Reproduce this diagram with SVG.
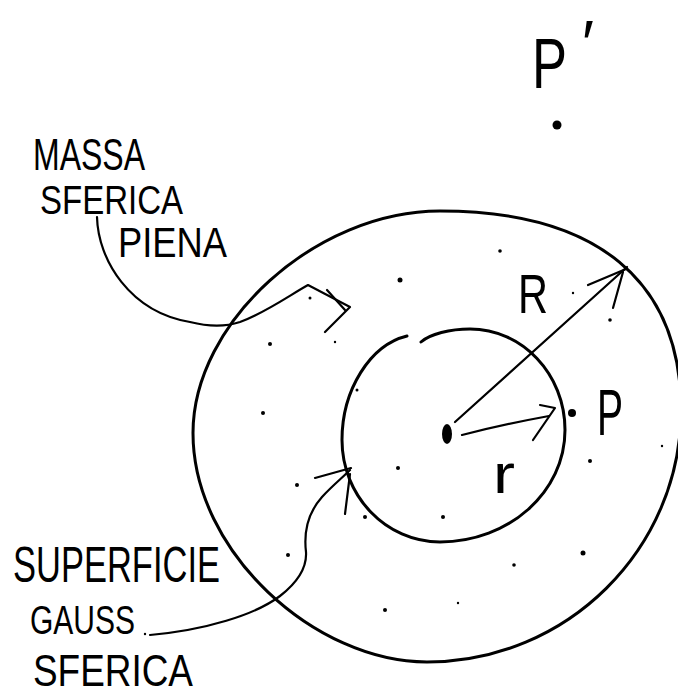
<svg xmlns="http://www.w3.org/2000/svg" width="678" height="699" viewBox="0 0 678 699">
<style>
.t{font-family:"Liberation Sans",Arial,sans-serif;fill:#000;}
.s{fill:none;stroke:#000;stroke-linecap:round;stroke-linejoin:round;}
.c{stroke-width:3;}
.l{stroke-width:2.2;}
.d{fill:#000;}
</style>
<rect width="678" height="699" fill="#fff"/>
<g id="outer-sphere">
<path class="s c" d="M440,211 C597,211 681,281 681,410 C681,549 567,662 427,662 C315,662 193,552 193,433 C193,322 316,211 440,211 Z"/>
</g>
<g id="inner-sphere">
<path class="s c" d="M421,342 C430,334 450,329 470,329 C522,329 565,374 565,430 C565,492 509,542 440,542 C386,542 342,496 342,440 C342,390 370,345 407,336"/>
</g>
<g id="center">
<ellipse class="d" cx="447" cy="434" rx="5" ry="10"/>
</g>
<g id="point-P">
<circle class="d" cx="572" cy="413" r="4"/>
<text class="t" x="597" y="435" font-size="64" textLength="26" lengthAdjust="spacingAndGlyphs">P</text>
</g>
<g id="point-P-prime">
<circle class="d" cx="557" cy="125" r="4.5"/>
<text class="t" x="532" y="88" font-size="70"><tspan textLength="35" lengthAdjust="spacingAndGlyphs">P</tspan><tspan x="582" y="66" font-size="64">′</tspan></text>
</g>
<g id="label-massa">
<text class="t" x="33" y="170" font-size="44" textLength="112" lengthAdjust="spacingAndGlyphs">MASSA</text>
<text class="t" x="40" y="214" font-size="40" textLength="143" lengthAdjust="spacingAndGlyphs">SFERICA</text>
<text class="t" x="118" y="257" font-size="42" textLength="109" lengthAdjust="spacingAndGlyphs">PIENA</text>
</g>
<g id="label-gauss">
<text class="t" x="13" y="582" font-size="50" textLength="207" lengthAdjust="spacingAndGlyphs">SUPERFICIE</text>
<text class="t" x="30" y="634" font-size="40" textLength="105" lengthAdjust="spacingAndGlyphs">GAUSS</text>
<text class="t" x="33" y="686" font-size="44" textLength="160" lengthAdjust="spacingAndGlyphs">SFERICA</text>
</g>
<g id="label-R">
<text class="t" x="518" y="313" font-size="56" textLength="30" lengthAdjust="spacingAndGlyphs">R</text>
</g>
<g id="label-r">
<text class="t" x="493" y="493" font-size="56" textLength="22" lengthAdjust="spacingAndGlyphs">r</text>
</g>
<g id="connectors">
<path class="s l" d="M455,422 L627,267"/>
<path class="s l" d="M588,285 L626,269 M613,308 L623,272"/>
<path class="s l" d="M462,435 Q505,424 549,416"/>
<path class="s l" d="M540,405 L555,408 L533,440"/>
<path class="s l" d="M150,635 C205,630 255,615 280,596 C298,582 307,568 306,552 C304,535 306,515 322,497 C332,486 342,478 350,470"/>
<path class="s l" d="M315,478 L351,468 M350,474 L345,514"/>
<path class="s l" d="M97,217 C98,260 130,312 190,322 C210,327 225,327 240,322 C265,313 290,295 308,285 L350,307 L325,332"/>
<path class="s l" d="M327,290 L345,310"/>
</g>
<g id="specks" fill="#000">
<circle cx="400" cy="280" r="2.5"/>
<circle cx="310" cy="298" r="1.5"/>
<circle cx="270" cy="344" r="2"/>
<circle cx="335" cy="342" r="1.2"/>
<circle cx="263" cy="413" r="2"/>
<circle cx="357" cy="390" r="1.5"/>
<circle cx="500" cy="251" r="1.8"/>
<circle cx="573" cy="293" r="1.2"/>
<circle cx="610" cy="320" r="1.8"/>
<circle cx="590" cy="461" r="2"/>
<circle cx="662" cy="446" r="1.2"/>
<circle cx="297" cy="485" r="2"/>
<circle cx="288" cy="555" r="2"/>
<circle cx="365" cy="517" r="2"/>
<circle cx="385" cy="610" r="2"/>
<circle cx="398" cy="468" r="2"/>
<circle cx="443" cy="517" r="2"/>
<circle cx="583" cy="553" r="2.5"/>
<circle cx="514" cy="565" r="1.8"/>
<circle cx="458" cy="603" r="1.2"/>
<circle cx="145" cy="634" r="1.2"/>
</g>
</svg>
